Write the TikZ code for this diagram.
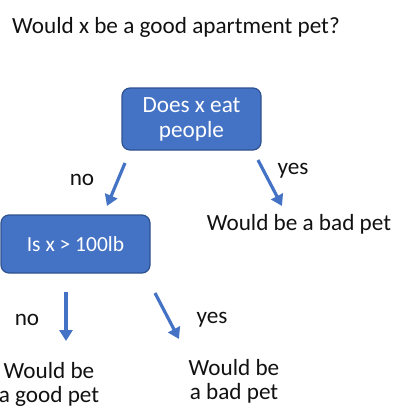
\documentclass[tikz,border=0pt]{standalone}
\usepackage{fontspec}
\setmainfont{Carlito}
\usetikzlibrary{arrows.meta}
\definecolor{boxblue}{HTML}{4472C4}
\definecolor{boxedge}{HTML}{2F528F}
\definecolor{txt}{HTML}{111111}
\begin{document}
\begin{tikzpicture}[x=1pt,y=-1pt,
  every node/.style={inner sep=0pt,font=\fontsize{23.2}{24}\selectfont,text=txt},
  qbox/.style={draw=boxedge,line width=1.2pt,fill=boxblue,rounded corners=8pt,text=white,align=center},
  lbl/.style={align=center},
  arr/.style={draw=boxblue,line width=3.2pt,-{Triangle[length=11pt,width=13pt]}}]
\useasboundingbox (0,0) rectangle (400,408);
\node[anchor=base west] (title) at (12,33) {Would x be a good apartment pet?};
\node[qbox,minimum width=139pt,minimum height=62pt,font=\fontsize{23.2}{25}\selectfont] (q1) at (191.5,119) {Does x eat\\people};
\node[qbox,minimum width=149pt,minimum height=58pt,font=\fontsize{21.5}{25}\selectfont] (q2) at (75.5,244) {Is x > 100lb};
\node[anchor=base] (bad1) at (299,230) {Would be a bad pet};
\node[lbl] (good2) at (49,384) {Would be\\a good pet};
\node[lbl] (bad2) at (234,381) {Would be\\a bad pet};
\node (no1) at (82,180) {no};
\node (yes1) at (293,171) {yes};
\node (no2) at (27,320) {no};
\node (yes2) at (212,320) {yes};
\coordinate (a1s) at (125,163); \coordinate (a1e) at (107,206);
\coordinate (a2s) at (258,160); \coordinate (a2e) at (282,206);
\coordinate (a3s) at (66,292); \coordinate (a3e) at (66,341);
\coordinate (a4s) at (155,293); \coordinate (a4e) at (179,339);
\draw[arr] (a1s) -- (a1e);
\draw[arr] (a2s) -- (a2e);
\draw[arr] (a3s) -- (a3e);
\draw[arr] (a4s) -- (a4e);
\end{tikzpicture}
\end{document}
